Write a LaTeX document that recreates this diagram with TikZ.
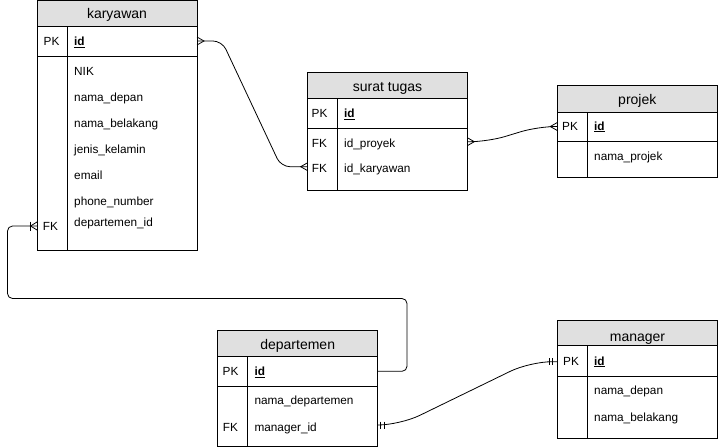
\documentclass[tikz,border=0pt]{standalone}
\usepackage{fontspec}
\setmainfont{Liberation Sans}
\usetikzlibrary{calc}
\definecolor{hdrgray}{RGB}{224,224,224}
\begin{document}
\begin{tikzpicture}[x=1pt,y=-1pt,
  tbl/.style={draw=black, line width=0.9pt},
  ttl/.style={font=\fontsize{14}{16}\selectfont, anchor=base, inner sep=0pt},
  fld/.style={font=\fontsize{11.8}{14}\selectfont, anchor=base west, inner sep=0pt},
  keyl/.style={font=\fontsize{11.8}{14}\selectfont, anchor=base, inner sep=0pt},
  conn/.style={draw=black, line width=0.8pt},
  crowmk/.style={draw=black, line width=0.8pt}]
\useasboundingbox (0,0) rectangle (718,447);
% ---------------- karyawan
\fill[hdrgray] (37,0.5) rectangle (197,26);
\draw[tbl] (37,0.5) rectangle (197,250);
\draw[tbl] (37,26) -- (197,26) (37,56) -- (197,56) (67,26) -- (67,250);
\node[ttl] (kT) at (117,18.3) {karyawan};
\node[keyl] (kPK) at (51.5,45.5) {PK};
\node[fld] (kid) at (74,45.5) {\underline{\textbf{id}}};
\node[fld] (kf1) at (74,75.7) {NIK};
\node[fld] (kf2) at (74,101.6) {nama\_depan};
\node[fld] (kf3) at (74,127.5) {nama\_belakang};
\node[fld] (kf4) at (74,153.4) {jenis\_kelamin};
\node[fld] (kf5) at (74,179.3) {email};
\node[fld] (kf6) at (74,205.2) {phone\_number};
\node[fld] (kf7) at (74,226.7) {departemen\_id};
\node[keyl] (kFK) at (50.5,230.7) {FK};
\coordinate (kidE) at (197,41);
\coordinate (kfkW) at (37,226);
% ---------------- surat tugas
\fill[hdrgray] (307.7,72.3) rectangle (467.3,98.3);
\draw[tbl] (307.7,72.3) rectangle (467.3,190.3);
\draw[tbl] (307.7,98.3) -- (467.3,98.3) (307.7,128.3) -- (467.3,128.3) (337.3,98.3) -- (337.3,190.3);
\node[ttl] (sT) at (387.5,91) {surat tugas};
\node[keyl] (sPK) at (319.5,117.3) {PK};
\node[fld] (sid) at (344,117.3) {\underline{\textbf{id}}};
\node[keyl] (sFK1) at (319.5,147.3) {FK};
\node[fld] (sf1) at (344,147.3) {id\_proyek};
\node[keyl] (sFK2) at (319.5,172.7) {FK};
\node[fld] (sf2) at (344,172.7) {id\_karyawan};
\coordinate (sf1E) at (467.3,141.7);
\coordinate (sf2W) at (307.7,166.7);
% ---------------- projek
\fill[hdrgray] (557.3,85) rectangle (717.3,112.3);
\draw[tbl] (557.3,85) rectangle (717.3,177.7);
\draw[tbl] (557.3,112.3) -- (717.3,112.3) (557.3,141) -- (717.3,141) (587,112.3) -- (587,177.7);
\node[ttl] (pT) at (637.3,104.3) {projek};
\node[keyl] (pPK) at (570,130) {PK};
\node[fld] (pid) at (594,130) {\underline{\textbf{id}}};
\node[fld] (pf1) at (594,160.7) {nama\_projek};
\coordinate (pidW) at (557.3,126.5);
% ---------------- departemen
\fill[hdrgray] (217.7,330.3) rectangle (377.7,356);
\draw[tbl] (217.7,330.3) rectangle (377.7,446.5);
\draw[tbl] (217.7,356) -- (377.7,356) (217.7,386.3) -- (377.7,386.3) (247.3,356) -- (247.3,446.5);
\node[ttl] (dT) at (297.7,349) {departemen};
\node[keyl] (dPK) at (230.5,375.7) {PK};
\node[fld] (did) at (254.3,375.7) {\underline{\textbf{id}}};
\node[fld] (df1) at (254.3,404.7) {nama\_departemen};
\node[keyl] (dFK) at (230.5,431) {FK};
\node[fld] (df2) at (254.3,431) {manager\_id};
\coordinate (didE) at (377.7,371.3);
\coordinate (df2E) at (377.7,425);
% ---------------- manager
\fill[hdrgray] (557.7,320.7) rectangle (717.3,345.7);
\draw[tbl] (557.7,320.7) rectangle (717.3,438.3);
\draw[tbl] (557.7,345.7) -- (717.3,345.7) (557.7,376) -- (717.3,376) (587.7,345.7) -- (587.7,438.3);
\node[ttl] (mT) at (637.5,341) {manager};
\node[keyl] (mPK) at (571,365) {PK};
\node[fld] (mid) at (594,365) {\underline{\textbf{id}}};
\node[fld] (mf1) at (594,394.3) {nama\_depan};
\node[fld] (mf2) at (594,421) {nama\_belakang};
\coordinate (midW) at (557.7,361.7);
% ---------------- connectors
% karyawan.id  >---<  surat tugas.id_karyawan
\draw[conn, rounded corners=9pt] (kidE) -- (222,41) -- (281,166.7) -- (sf2W);
\draw[crowmk] ($(kidE)+(0,-4)$) -- ++(7,4) -- ++(-7,4);
\draw[crowmk] ($(sf2W)+(0,-4)$) -- ++(-7,4) -- ++(7,4);
% surat tugas.id_proyek >---< projek.id
\draw[conn, rounded corners=18pt] (sf1E) -- (488,141.7) -- (538,126.5) -- (pidW);
\draw[crowmk] ($(sf1E)+(0,-4)$) -- ++(7,4) -- ++(-7,4);
\draw[crowmk] ($(pidW)+(0,-4)$) -- ++(-7,4) -- ++(7,4);
% karyawan.departemen_id >|--- departemen.id
\draw[conn, rounded corners=5pt] (kfkW) -- (7.5,226) -- (7.5,298.5) -- (407,298.5) -- (407,371.3) -- (didE);
\draw[crowmk] ($(kfkW)+(0,-4)$) -- ++(-6.5,4) -- ++(6.5,4);
\draw[crowmk] ($(kfkW)+(-7,-4.5)$) -- ++(0,9);
% departemen.manager_id ||---|| manager.id
\draw[conn, rounded corners=22pt] (df2E) -- (400,425) -- (530,361.7) -- (midW);
\draw[crowmk] ($(df2E)+(2.8,-3.5)$) -- ++(0,7) ($(df2E)+(6.3,-3.5)$) -- ++(0,7);
\draw[crowmk] ($(midW)+(-8.7,-3.5)$) -- ++(0,7) ($(midW)+(-5.2,-3.5)$) -- ++(0,7);
\end{tikzpicture}
\end{document}
